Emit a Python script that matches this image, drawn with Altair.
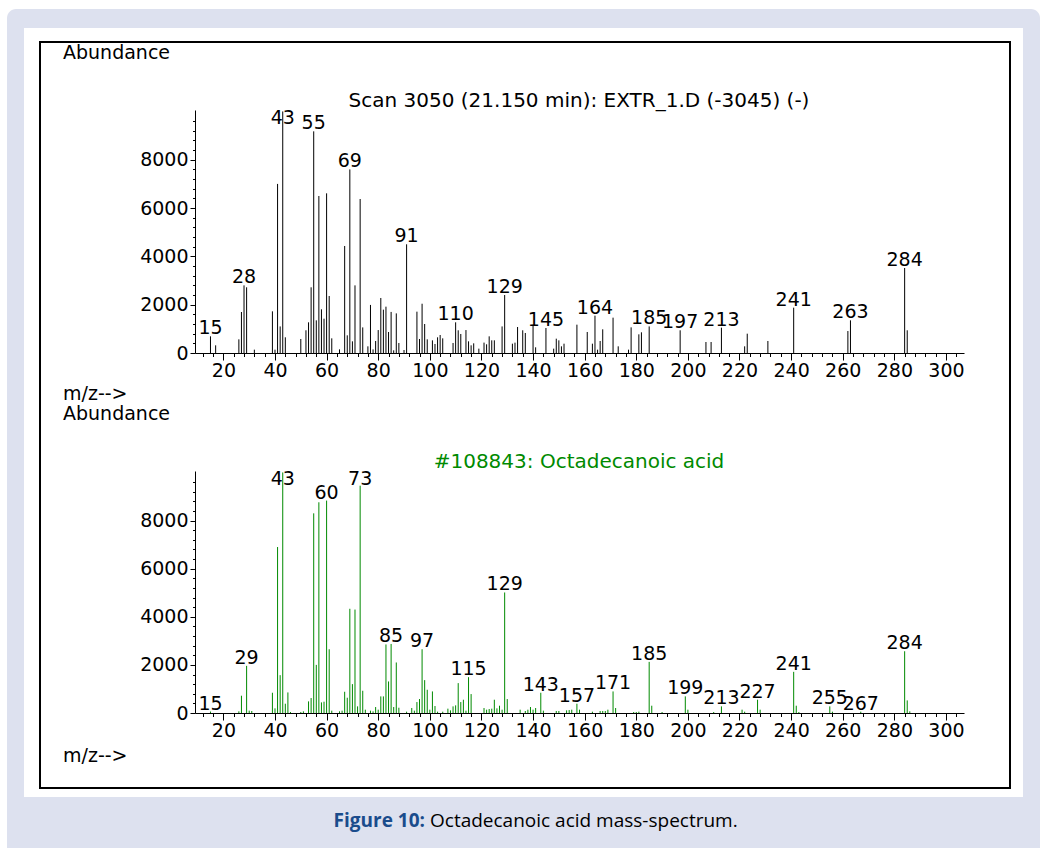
import altair as alt
import pandas as pd

# ---- measured spectrum: Scan 3050 (21.150 min) ----
scan_mz = [15, 17, 26, 27, 28, 29, 32, 39, 40, 41, 42, 43, 44, 50, 52, 53, 54, 55, 56, 57,
           58, 59, 60, 61, 62, 65, 67, 68, 69, 70, 71, 73, 74, 76, 77, 78, 79, 80, 81, 82,
           83, 84, 85, 86, 87, 88, 90, 91, 95, 96, 97, 98, 99, 101, 102, 103, 104, 105, 109, 110,
           111, 112, 114, 115, 116, 117, 119, 121, 122, 123, 124, 125, 128, 129, 132, 133, 134, 136, 137, 140,
           141, 145, 148, 149, 150, 151, 152, 157, 161, 163, 164, 165, 166, 167, 171, 173, 177, 178, 181, 182,
           185, 197, 207, 209, 213, 222, 223, 231, 241, 262, 263, 284, 285]
scan_ab = [690, 317, 566, 1697, 2800, 2720, 138, 1725, 138, 7000, 1100, 10000, 650, 580, 940, 1270, 2720, 9177, 1352, 6500,
           1808, 1420, 6610, 2360, 607, 150, 4430, 731, 7600, 483, 2800, 6375, 1060, 276, 1990, 150, 497, 950, 2277, 1794,
           1918, 870, 1700, 110, 1640, 414, 124, 4500, 1711, 580, 2040, 1200, 566, 524, 373, 649, 745, 607, 414, 1270,
           940, 787, 950, 483, 317, 400, 180, 430, 360, 690, 525, 525, 1100, 2400, 386, 428, 1076, 940, 828, 1173,
           235, 1035, 180, 593, 524, 276, 386, 1173, 870, 386, 1545, 138, 497, 980, 1463, 276, 138, 1062, 773, 856,
           1100, 940, 455, 455, 1049, 276, 800, 497, 1877, 910, 1352, 3519, 940]
scan_labels = [15, 28, 43, 55, 69, 91, 110, 129, 145, 164, 185, 197, 213, 241, 263, 284]

# ---- library spectrum: #108843 Octadecanoic acid ----
lib_mz = [15, 26, 27, 29, 30, 31, 39, 40, 41, 42, 43, 44, 45, 46, 50, 51, 53, 54, 55, 56,
          57, 58, 59, 60, 61, 62, 65, 66, 67, 68, 69, 70, 71, 72, 73, 74, 75, 77, 78, 79,
          80, 81, 82, 83, 84, 85, 86, 87, 88, 91, 93, 94, 95, 96, 97, 98, 99, 100, 101, 102,
          103, 105, 107, 108, 109, 110, 111, 112, 113, 114, 115, 116, 121, 122, 123, 124, 125, 126, 127, 128,
          129, 130, 135, 137, 138, 139, 140, 141, 143, 144, 149, 150, 153, 154, 155, 157, 158, 163, 166, 167,
          168, 169, 171, 172, 179, 180, 181, 185, 186, 190, 199, 200, 210, 213, 221, 222, 227, 228, 241, 242,
          243, 255, 256, 267, 284, 285, 286]
lib_ab = [60, 70, 718, 1960, 97, 83, 842, 193, 6900, 1573, 10000, 386, 855, 41, 41, 69, 483, 621, 8300, 2000,
          8760, 441, 470, 8830, 2650, 97, 69, 97, 883, 635, 4333, 1200, 4300, 276, 9450, 925, 138, 97, 69, 248,
          138, 690, 690, 2850, 1311, 2870, 248, 2100, 220, 55, 207, 97, 455, 580, 2650, 1366, 966, 138, 897, 290,
          55, 55, 180, 110, 276, 317, 1242, 455, 552, 97, 1490, 787, 207, 138, 165, 180, 552, 193, 303, 138,
          5010, 580, 138, 83, 138, 248, 138, 207, 842, 97, 83, 83, 110, 124, 138, 386, 138, 55, 83, 83,
          83, 138, 897, 207, 41, 41, 55, 2125, 303, 41, 690, 138, 41, 276, 138, 55, 552, 138, 1711, 303,
          41, 276, 55, 55, 2567, 524, 69]
lib_labels = [15, 29, 43, 60, 73, 85, 97, 115, 129, 143, 157, 171, 185, 199, 213, 227, 241, 255, 267, 284]

# ---- axis ticks ----
x_major = list(range(20, 301, 20))
x_minor = [v for v in range(12, 305, 4) if v % 20]
y_major = [0, 2000, 4000, 6000, 8000]
y_minor = [v for v in range(400, 10001, 400) if v % 2000]

W, H = 1046, 848
FONT = "DejaVu Sans"
FS = 19
X_DOMAIN = [9, 307]
X_RANGE = [195, 964]
Y_DOMAIN = [0, 10060]
LABEL_CAP = 9400  # labels of full-height peaks stay inside the frame
GREEN = "#008a00"


def peak_table(mz, ab):
    return pd.DataFrame({"mz": mz, "ab": ab})


def label_table(mz, ab, labels):
    lookup = dict(zip(mz, ab))
    return pd.DataFrame({"mz": labels, "ab": [lookup[m] for m in labels]})


def spectrum(df, lab, color, base, top):
    xs = alt.Scale(domain=X_DOMAIN, range=X_RANGE, nice=False, zero=False)
    ys = alt.Scale(domain=Y_DOMAIN, range=[base, top], nice=False)
    common = dict(domainColor="black", tickColor="black", tickWidth=1, domainWidth=1,
                  grid=False, labelFont=FONT, labelFontSize=FS, labelColor="black",
                  labelOverlap=False, labelFlush=False, titleOpacity=0, zindex=2,
                  format="d")
    minor = dict(labels=False, domain=False, tickColor="black", tickWidth=1,
                 grid=False, titleOpacity=0, zindex=2)
    peaks = alt.Chart(df).mark_rule(color=color, strokeWidth=1).encode(
        x=alt.X("mz:Q", scale=xs, title="",
                axis=alt.Axis(orient="bottom", offset=base - H, values=x_major,
                              tickSize=7, labelPadding=1, **common)),
        y=alt.Y("ab:Q", scale=ys, title="",
                axis=alt.Axis(orient="left", offset=-X_RANGE[0], values=y_major,
                              tickSize=5, labelPadding=2, **common)),
        y2=alt.datum(0),
    )
    labels = alt.Chart(lab).transform_calculate(
        ly=f"min(datum.ab, {LABEL_CAP})"
    ).mark_text(font=FONT, fontSize=FS, color="black", baseline="alphabetic",
                align="center", dy=-2).encode(
        x=alt.X("mz:Q", scale=xs, title="",
                axis=alt.Axis(orient="bottom", offset=base - H, values=x_minor,
                              tickSize=3.5, **minor)),
        y=alt.Y("ly:Q", scale=ys, title="",
                axis=alt.Axis(orient="left", offset=-X_RANGE[0], values=y_minor,
                              tickSize=2.5, **minor)),
        text=alt.Text("mz:Q"),
    )
    return [peaks, labels]


one = alt.Data(values=[{}])


def box(x, x2, y, y2, **kw):
    return alt.Chart(one).mark_rect(**kw).encode(
        x=alt.value(x), x2=alt.value(x2), y=alt.value(y), y2=alt.value(y2))


def note(text, x, y, color="black", align="left", font=FONT, size=FS, weight="normal"):
    return alt.Chart(one).mark_text(text=text, font=font, fontSize=size, color=color,
                                    align=align, baseline="alphabetic",
                                    fontWeight=weight).encode(
        x=alt.value(x), y=alt.value(y))


frame = [
    box(7, 1040, 9, 870, fill="#dde1ef", cornerRadius=9),
    box(24, 1023, 28, 797, fill="white"),
    box(40, 1010, 42, 788, fill="white", stroke="black", strokeWidth=2),
    note("Abundance", 63, 59),
    note("m/z-->", 63, 400),
    note("Abundance", 63, 420),
    note("m/z-->", 63, 762),
    note("Scan 3050 (21.150 min): EXTR_1.D (-3045) (-)", 579, 107, align="center", size=20),
    note("#108843: Octadecanoic acid", 579, 468, color=GREEN, align="center", size=20),
    note("Figure 10:", 425, 827, color="#1a4c8c", align="right",
         font="Open Sans", size=19, weight="bold"),
    note("Octadecanoic acid mass-spectrum.", 430, 827, font="Open Sans", size=19),
]

top = spectrum(peak_table(scan_mz, scan_ab), label_table(scan_mz, scan_ab, scan_labels),
               "black", 353, 110)
bottom = spectrum(peak_table(lib_mz, lib_ab), label_table(lib_mz, lib_ab, lib_labels),
                  GREEN, 713, 471)

chart = alt.layer(*frame, *top, *bottom).resolve_scale(
    x="shared", y="independent"
).resolve_axis(
    x="independent", y="independent"
).properties(
    width=W, height=H, padding=0,
    autosize=alt.AutoSizeParams(type="none"),
    background="white",
).configure_view(stroke=None)

chart.save("out.html", embed_options={"renderer": "svg", "actions": False})
